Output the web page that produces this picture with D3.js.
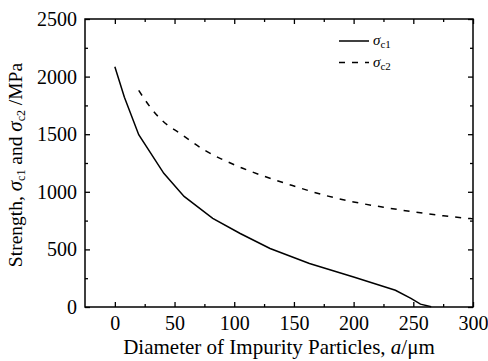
<!doctype html>
<html>
<head>
<meta charset="utf-8">
<script src="https://cdn.jsdelivr.net/npm/d3@7"></script>
<style>
  body { margin: 0; background: #fff; }
</style>
</head>
<body>
<script>
// sigma_c1 (solid)
const c1Diameter = [0, 8, 20, 41, 58, 82, 105, 130, 163, 200, 235, 248, 256, 265];
const c1Strength = [2085, 1820, 1495, 1160, 960, 770, 638, 508, 378, 260, 145, 75, 25, 3];
// sigma_c2 (dashed)
const c2Diameter = [20, 30, 40, 55, 75, 100, 125, 150, 175, 200, 225, 250, 275, 300];
const c2Strength = [1880, 1730, 1615, 1505, 1362, 1235, 1135, 1050, 972, 912, 866, 826, 792, 765];

const xTicks = [0, 50, 100, 150, 200, 250, 300];
const xMinor = [25, 75, 125, 175, 225, 275];
const yTicks = [0, 500, 1000, 1500, 2000, 2500];
const yMinor = [250, 750, 1250, 1750, 2250];

const W = 488, H = 361;
const m = {left: 85, right: 15, top: 19, bottom: 54};
const iw = W - m.left - m.right, ih = H - m.top - m.bottom;
const serif = '"Liberation Serif", "Times New Roman", serif';

const x = d3.scaleLinear().domain([-25, 300]).range([0, iw]);
const y = d3.scaleLinear().domain([0, 2500]).range([ih, 0]);

const svg = d3.select("body").append("svg")
    .attr("width", W)
    .attr("height", H)
    .attr("font-family", serif);

const g = svg.append("g")
    .attr("transform", `translate(${m.left},${m.top})`);

function styleAxis(sel) {
  sel.attr("font-family", serif).attr("font-size", 20);
  sel.select(".domain").remove();
  sel.selectAll(".tick line").attr("stroke", "#000").attr("stroke-width", 1.3);
  sel.selectAll("text").attr("fill", "#000");
}

const fmt = d3.format("d");

// major ticks, inward
g.append("g").attr("transform", `translate(0,${ih})`)
    .call(d3.axisBottom(x).tickValues(xTicks).tickSize(-5).tickPadding(9).tickFormat(fmt))
    .call(styleAxis);
g.append("g")
    .call(d3.axisLeft(y).tickValues(yTicks).tickSize(-5).tickPadding(8).tickFormat(fmt))
    .call(styleAxis);
g.append("g")
    .call(d3.axisTop(x).tickValues(xTicks).tickSize(-5).tickFormat(""))
    .call(styleAxis);
g.append("g").attr("transform", `translate(${iw},0)`)
    .call(d3.axisRight(y).tickValues(yTicks).tickSize(-5).tickFormat(""))
    .call(styleAxis);

// minor ticks
g.append("g").attr("transform", `translate(0,${ih})`)
    .call(d3.axisBottom(x).tickValues(xMinor).tickSize(-3).tickFormat(""))
    .call(styleAxis);
g.append("g")
    .call(d3.axisTop(x).tickValues(xMinor).tickSize(-3).tickFormat(""))
    .call(styleAxis);
g.append("g")
    .call(d3.axisLeft(y).tickValues(yMinor).tickSize(-3).tickFormat(""))
    .call(styleAxis);
g.append("g").attr("transform", `translate(${iw},0)`)
    .call(d3.axisRight(y).tickValues(yMinor).tickSize(-3).tickFormat(""))
    .call(styleAxis);

// frame
g.append("rect")
    .attr("width", iw)
    .attr("height", ih)
    .attr("fill", "none")
    .attr("stroke", "#000")
    .attr("stroke-width", 1.5);

const line = d3.line()
    .x(d => x(d[0]))
    .y(d => y(d[1]));

g.append("path")
    .datum(d3.zip(c1Diameter, c1Strength))
    .attr("d", line.curve(d3.curveLinear))
    .attr("fill", "none")
    .attr("stroke", "#000")
    .attr("stroke-width", 1.5);

g.append("path")
    .datum(d3.zip(c2Diameter, c2Strength))
    .attr("d", line.curve(d3.curveMonotoneX))
    .attr("fill", "none")
    .attr("stroke", "#000")
    .attr("stroke-width", 1.5)
    .attr("stroke-dasharray", "6,7");

// legend
const legend = [
  {sub: "c1", dash: null},
  {sub: "c2", dash: "6,7"}
];
const lg = g.selectAll(".leg")
    .data(legend)
    .join("g")
    .attr("transform", (d, i) => `translate(${254},${22 + i * 21.5})`);
lg.append("line")
    .attr("x1", 0).attr("x2", 30)
    .attr("stroke", "#000")
    .attr("stroke-width", 1.5)
    .attr("stroke-dasharray", d => d.dash);
const lt = lg.append("text")
    .attr("x", 34)
    .attr("y", 4)
    .attr("font-size", 15);
lt.append("tspan").attr("font-style", "italic").text("σ");
lt.append("tspan").attr("font-size", 11).attr("dy", 3).text(d => d.sub);

// axis titles
const xt = svg.append("text")
    .attr("x", m.left + iw / 2)
    .attr("y", 354)
    .attr("text-anchor", "middle")
    .attr("font-size", 21);
xt.append("tspan").text("Diameter of Impurity Particles, ");
xt.append("tspan").attr("font-style", "italic").text("a");
xt.append("tspan").text("/μm");

const yt = svg.append("text")
    .attr("transform", `translate(22,${m.top + ih / 2 + 2}) rotate(-90)`)
    .attr("text-anchor", "middle")
    .attr("font-size", 19.5);
yt.append("tspan").text("Strength, ");
yt.append("tspan").attr("font-style", "italic").attr("font-size", 21).text("σ");
yt.append("tspan").attr("font-size", 12).attr("dy", 3).text("c1");
yt.append("tspan").attr("dy", -3).text(" and ");
yt.append("tspan").attr("font-style", "italic").attr("font-size", 21).text("σ");
yt.append("tspan").attr("font-size", 12).attr("dy", 3).text("c2");
yt.append("tspan").attr("dy", -3).text(" /MPa");
</script>
</body>
</html>
